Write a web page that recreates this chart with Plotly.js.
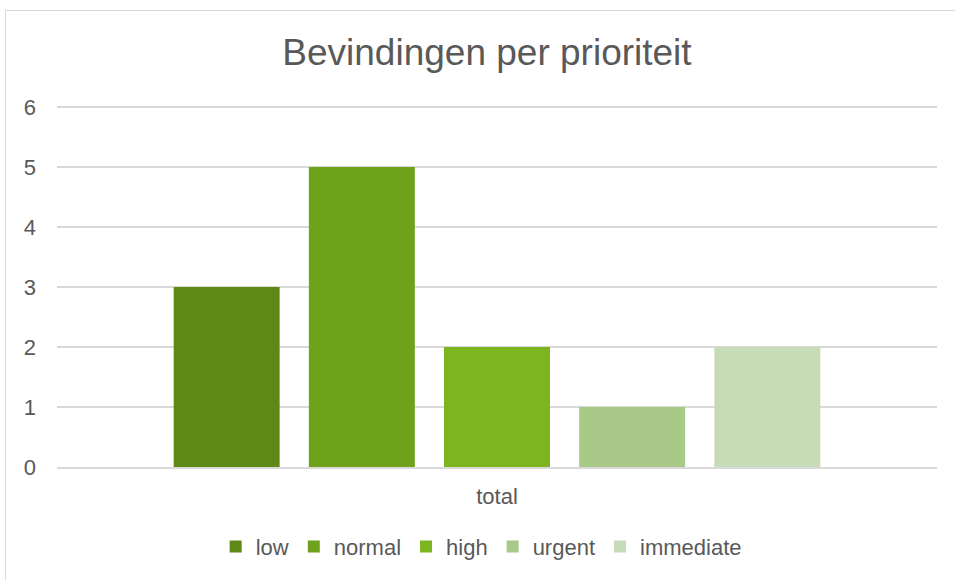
<!DOCTYPE html>
<html>
<head>
<meta charset="utf-8">
<script src="https://cdn.plot.ly/plotly-3.0.1.min.js"></script>
<style>
  html, body { margin: 0; padding: 0; background: #ffffff; overflow: hidden; }
  #frame { position: absolute; left: 5px; top: 10px; width: 1000px; height: 1000px;
           border-left: 1.5px solid #d9d9d9; border-top: 1.5px solid #d9d9d9; pointer-events: none; }
  #chart { position: absolute; left: 0; top: 0; width: 955px; height: 580px; }
</style>
</head>
<body>
<div id="chart"></div>
<div id="frame"></div>
<script>
const categories = ["total"];
const seriesNames = ["low", "normal", "high", "urgent", "immediate"];
const lowValues = [3];
const normalValues = [5];
const highValues = [2];
const urgentValues = [1];
const immediateValues = [2];
const yTickValues = [0, 1, 2, 3, 4, 5, 6];

const seriesValues = [lowValues, normalValues, highValues, urgentValues, immediateValues];
const colors = ["#5e8916", "#6ea21b", "#7cb520", "#a8c988", "#c8dbb7"];

const traces = seriesNames.map((name, i) => ({
  type: "bar",
  name: name,
  x: categories,
  y: seriesValues[i],
  marker: { color: colors[i], line: { width: 0 } },
  hoverinfo: "none"
}));

const font = "'Liberation Sans', Arial, sans-serif";

const layout = {
  width: 955,
  height: 580,
  paper_bgcolor: "rgba(0,0,0,0)",
  plot_bgcolor: "rgba(0,0,0,0)",
  margin: { l: 57, r: 18, t: 105, b: 110 },
  barmode: "group",
  bargap: 0.232,
  bargroupgap: 0.216,
  showlegend: true,
  title: {
    text: "Bevindingen per prioriteit",
    font: { family: font, size: 37, color: "#595959" },
    x: 0.4886, xref: "paper", xanchor: "center",
    y: 51, yref: "container", yanchor: "middle"
  },
  xaxis: {
    type: "category",
    showgrid: false,
    showline: true,
    linecolor: "#d9d9d9",
    linewidth: 1.5,
    ticks: "",
    ticklabelstandoff: 9,
    tickfont: { family: font, size: 22, color: "#595959" },
    fixedrange: true
  },
  yaxis: {
    range: [0, 6.033],
    tickvals: yTickValues,
    ticktext: yTickValues.map(String),
    showgrid: true,
    gridcolor: "#d9d9d9",
    gridwidth: 1.5,
    zeroline: false,
    showline: false,
    ticks: "",
    ticklabelstandoff: 20,
    tickfont: { family: font, size: 22, color: "#595959" },
    fixedrange: true
  },
  legend: {
    orientation: "h",
    x: 0.482, xanchor: "center",
    y: -0.22, yanchor: "middle",
    font: { family: font, size: 22, color: "#595959" },
    itemwidth: 30,
    traceorder: "normal",
    bgcolor: "rgba(0,0,0,0)"
  }
};

Plotly.newPlot("chart", traces, layout, { displayModeBar: false, staticPlot: true });
</script>
</body>
</html>
